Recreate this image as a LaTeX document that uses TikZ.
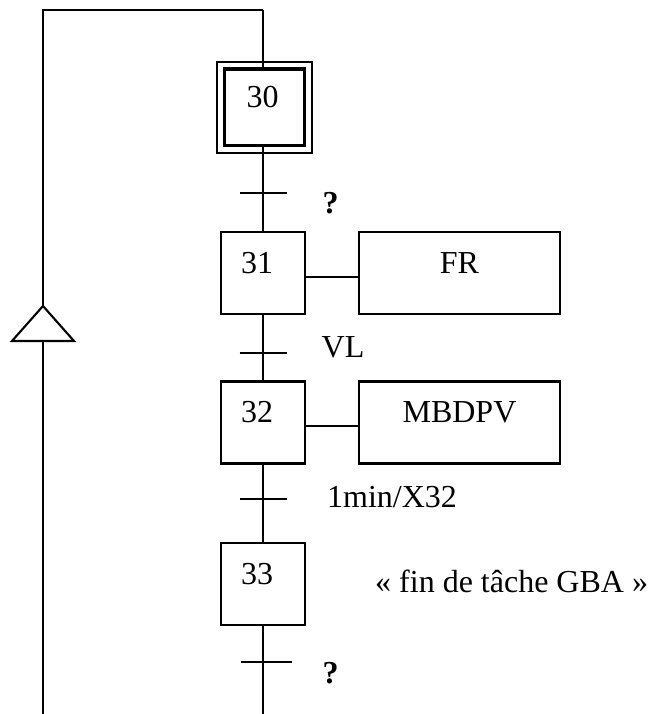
\documentclass[tikz,border=0pt]{standalone}
\usepackage{fontspec}
\setmainfont{Liberation Serif}
\begin{document}
\begin{tikzpicture}[x=1pt,y=-1pt,
  font=\fontsize{32}{38}\selectfont,
  wire/.style={line width=2.1pt},
  stepbox/.style={draw, line width=2.1pt, minimum width=84pt, minimum height=82pt,
    text width=44pt, inner xsep=20pt, inner ysep=0pt, align=left,
    text height=22pt, text depth=22pt},
  initbox/.style={draw, line width=3.2pt, minimum width=80.5pt, minimum height=76.5pt,
    text width=36pt, inner xsep=22.25pt, inner ysep=0pt, align=left,
    text height=22pt, text depth=22pt},
  actionbox/.style={draw, line width=2.1pt, minimum width=201pt, minimum height=82pt,
    inner sep=0pt, text height=22pt, text depth=22pt},
  cond/.style={anchor=base, inner sep=0pt},
  bar/.style={line width=2.1pt}
]
\useasboundingbox (0,0) rectangle (653,714);

% steps
\node[initbox] (s30) at (264.5,107.25) {30};
\draw[line width=2pt] ([shift={(-5.5pt,-5.5pt)}]s30.south west) rectangle ([shift={(5.5pt,5.5pt)}]s30.north east);
\node[stepbox] (s31) at (263,273) {31};
\node[stepbox] (s32) at (263,422.5) {32};
\node[stepbox] (s33) at (263,584) {33};

% actions
\node[actionbox] (a31) at (459.5,273) {FR};
\node[actionbox] (a32) at (459.5,422.5) {MBDPV};

% transitions
\coordinate (t1) at (263.5,193);
\coordinate (t2) at (263,353);
\coordinate (t3) at (263,499);
\coordinate (t4) at (266.5,662);

% loop coordinates
\coordinate (top) at (263,10);
\coordinate (corner) at (43,10);
\coordinate (leftbottom) at (43,714);
\coordinate (mainbottom) at (263,714);
\coordinate (apex) at (43,306);
\coordinate (baseL) at (12,341);
\coordinate (baseR) at (74,341);
\coordinate (baseM) at (43,341);

% main line
\draw[wire] (top) -- (top |- s30.north);
\draw[wire] (top |- s30.south) -- (s31.north);
\draw[wire] (s31.south) -- (s32.north);
\draw[wire] (s32.south) -- (s33.north);
\draw[wire] (s33.south) -- (mainbottom);

% return line
\draw[wire] (leftbottom) -- (baseM);
\draw[wire, line join=miter] (baseL) -- (apex) -- (baseR) -- cycle;
\draw[wire] (apex) -- (corner) -- (top);

% action links
\draw[wire] ([yshift=-4pt]s31.east) -- ([yshift=-4pt]a31.west);
\draw[wire] ([yshift=-3.5pt]s32.east) -- ([yshift=-3.5pt]a32.west);

% transition bars
\draw[bar] ([xshift=-23.5pt]t1) -- ([xshift=23.5pt]t1);
\draw[bar] ([xshift=-23.5pt]t2) -- ([xshift=23.5pt]t2);
\draw[bar] ([xshift=-23.5pt]t3) -- ([xshift=23.5pt]t3);
\draw[bar] ([xshift=-25.5pt]t4) -- ([xshift=25.5pt]t4);

% receptivities
\node[cond, font=\fontsize{32}{38}\selectfont\bfseries] (r1) at (330.5,213) {?};
\node[cond] (r2) at (343,357) {VL};
\node[cond, anchor=base west] (r3) at (327,507) {1min/X32};
\node[cond, anchor=base west] (r33) at (375,592) {« fin de tâche GBA »};
\node[cond, font=\fontsize{32}{38}\selectfont\bfseries] (r4) at (330.5,683) {?};
\end{tikzpicture}
\end{document}
